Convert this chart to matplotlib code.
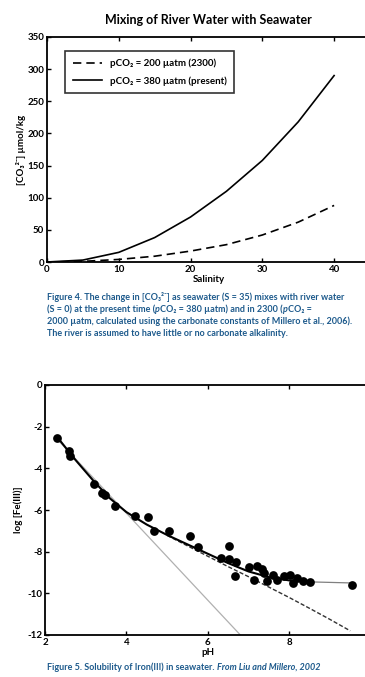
import matplotlib
matplotlib.use("Agg")
import matplotlib.pyplot as plt
import numpy as np

FAM = ['Lato', 'DejaVu Sans']
plt.rcParams['font.family'] = FAM
plt.rcParams['axes.unicode_minus'] = False

# ---- Figure 4 data ----
salinity = [0, 5, 10, 15, 20, 25, 30, 35, 40]
co3_present = [0, 3, 15, 38, 70, 110, 158, 218, 290]
co3_2300 = [0, 1, 4, 9, 17, 27, 42, 62, 88]
legend_labels = ["pCO₂ = 200 µatm (2300)", "pCO₂ = 380 µatm (present)"]

# ---- Figure 5 data ----
ph_obs = [2.29, 2.59, 2.61, 3.20, 3.39, 3.47, 3.72, 4.21, 4.54, 4.67, 5.05, 5.56,
          5.77, 6.53, 6.32, 6.53, 6.69, 6.68, 7.00, 7.21, 7.33, 7.14, 7.37, 7.45,
          7.61, 7.69, 7.86, 8.02, 8.10, 8.18, 8.35, 8.51, 9.54]
logfe_obs = [-2.53, -3.17, -3.42, -4.77, -5.20, -5.28, -5.79, -6.30, -6.33, -7.02,
             -7.02, -7.24, -7.77, -7.74, -8.31, -8.36, -8.51, -9.15, -8.74, -8.68,
             -8.82, -9.38, -9.04, -9.40, -9.12, -9.36, -9.18, -9.12, -9.48, -9.26,
             -9.42, -9.46, -9.60]
ph_fit = [2.3, 2.75, 3.2, 3.6, 4.0, 4.5, 5.0, 5.5, 6.0, 6.5, 7.0, 7.5, 8.0, 8.5]
logfe_fit = [-2.5, -3.6, -4.62, -5.45, -6.1, -6.7, -7.2, -7.65, -8.1, -8.55, -8.95,
             -9.22, -9.38, -9.45]
ph_tail = [8.5, 9.5]
logfe_tail = [-9.45, -9.5]
ph_model = [5.0, 5.5, 6.0, 6.5, 7.0, 7.5, 8.0, 8.5, 9.0, 9.5]
logfe_model = [-7.22, -7.72, -8.22, -8.72, -9.2, -9.7, -10.2, -10.72, -11.25, -11.8]
ph_slope = [2.25, 6.8]
logfe_slope = [-2.5, -12.0]

caption_color = '#1d5a8c'

fig = plt.figure(figsize=(3.65, 6.77), dpi=100)
renderer = fig.canvas.get_renderer()


def seg_text(x_px, y_px, segments, size=6.5):
    """Draw a caption line made of (text, italic) segments, left to right."""
    x = x_px
    for txt, ital in segments:
        t = fig.text(x / 365, 1 - y_px / 677, txt, fontsize=size, fontweight='bold',
                     fontstyle='italic' if ital else 'normal', family=FAM,
                     color=caption_color, va='center', ha='left')
        bb = t.get_window_extent(renderer=renderer)
        x = x + bb.width


# ---------- Top chart ----------
ax1 = fig.add_axes([47/365, 1-262/677, 323/365, 225/677])
ax1.plot(salinity, co3_2300, 'k--', lw=1.2, dashes=(5, 3), label=legend_labels[0])
ax1.plot(salinity, co3_present, 'k-', lw=1.2, label=legend_labels[1])
ax1.set_xlim(0, 45)
ax1.set_ylim(0, 350)
ax1.set_xticks([0, 10, 20, 30, 40])
ax1.set_yticks([0, 50, 100, 150, 200, 250, 300, 350])
ax1.tick_params(direction='in', top=True, right=True, length=3, width=1,
                labelsize=7, pad=2)
for lab in ax1.get_xticklabels() + ax1.get_yticklabels():
    lab.set_fontweight('bold')
for s in ax1.spines.values():
    s.set_linewidth(1.3)
ax1.set_title("Mixing of River Water with Seawater", fontsize=9, fontweight='bold', pad=9)
ax1.set_xlabel("Salinity", fontsize=7, fontweight='bold', labelpad=1)
ax1.set_ylabel("[CO₃²⁻] µmol/kg", fontsize=7, fontweight='bold', labelpad=1)
leg = ax1.legend(loc='upper left', bbox_to_anchor=(0.04, 0.96), fontsize=7,
                 frameon=True, fancybox=False, edgecolor='k', handlelength=3.0,
                 borderpad=0.8, labelspacing=0.8)
leg.get_frame().set_linewidth(1.2)
for t in leg.get_texts():
    t.set_fontweight('bold')

cap4 = [
    [("Figure 4. The change in [CO₃²⁻] as seawater (S = 35) mixes with river water", False)],
    [("(S = 0) at the present time (", False), ("p", True),
     ("CO₂ = 380 µatm) and in 2300 (", False), ("p", True), ("CO₂ =", False)],
    [("2000 µatm, calculated using the carbonate constants of Millero et al., 2006).", False)],
    [("The river is assumed to have little or no carbonate alkalinity.", False)],
]
for i, segs in enumerate(cap4):
    seg_text(47, 297 + 12.3 * i, segs)

# ---------- Bottom chart ----------
ax2 = fig.add_axes([45/365, 1-635/677, 325.6/365, 250/677])
ax2.plot(ph_slope, logfe_slope, '-', color='#b0b0b0', lw=0.9)
ax2.plot(ph_model, logfe_model, '--', color='#333333', lw=1.0, dashes=(3, 1.5))
ax2.plot(ph_tail, logfe_tail, '-', color='#808080', lw=0.9)
ax2.plot(ph_fit, logfe_fit, 'k-', lw=1.5)
ax2.plot(ph_obs, logfe_obs, 'o', color='k', markersize=6.3, markeredgewidth=0)
ax2.set_xlim(2, 10)
ax2.set_ylim(-12, 0)
ax2.set_xticks([2, 4, 6, 8])
ax2.set_yticks([-12, -10, -8, -6, -4, -2, 0])
ax2.tick_params(direction='in', top=True, right=True, length=3, width=1,
                labelsize=7, pad=2)
for lab in ax2.get_xticklabels() + ax2.get_yticklabels():
    lab.set_fontweight('bold')
for s in ax2.spines.values():
    s.set_linewidth(1.3)
ax2.set_xlabel("pH", fontsize=7, fontweight='bold', labelpad=1)
ax2.set_ylabel("log [Fe(III)]", fontsize=7, fontweight='bold', labelpad=3)

seg_text(47, 667, [("Figure 5. Solubility of Iron(III) in seawater. ", False),
                   ("From Liu and Millero, 2002", True)])

fig.savefig("out.png", dpi=100)
